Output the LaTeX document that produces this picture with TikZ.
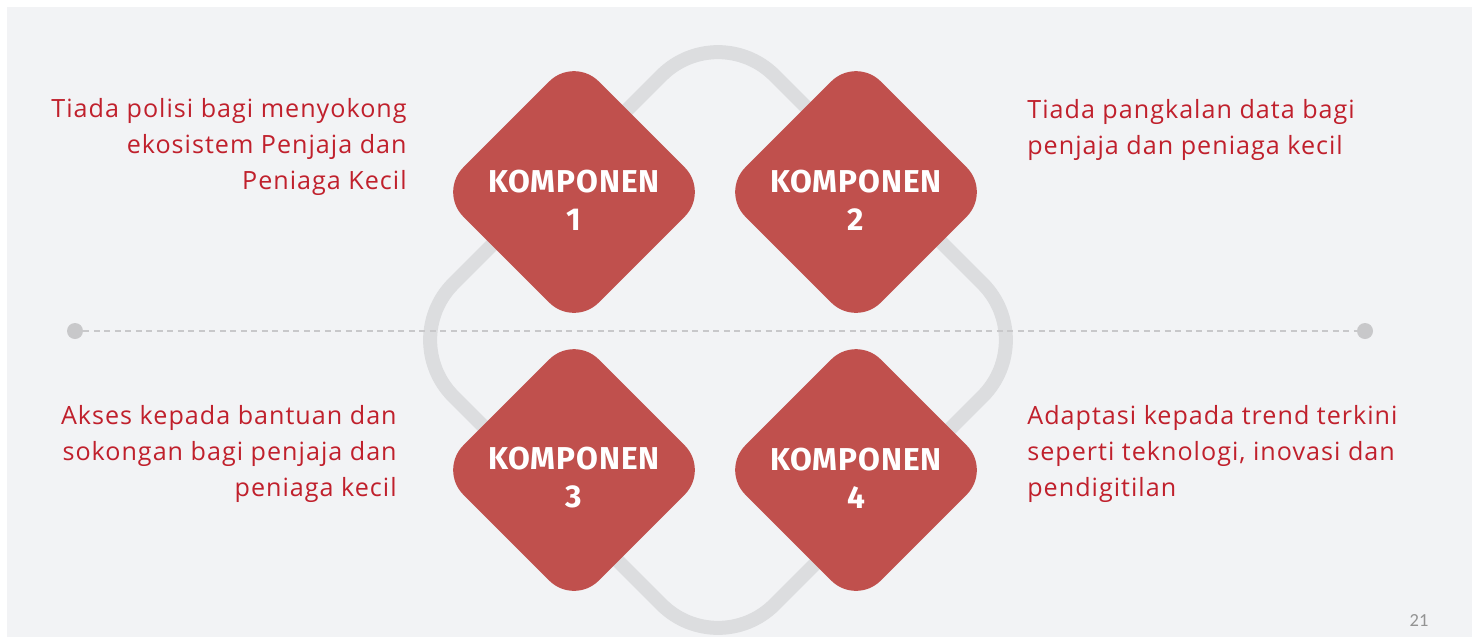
\documentclass[tikz,border=0pt]{standalone}
\usepackage{fontspec}
\setmainfont{Open Sans}[LetterSpace=4]
\newfontfamily\kompfont{Fira Sans}[LetterSpace=3]
\newfontfamily\pagefont{Carlito}
\usepackage{xcolor}
\usepackage{tikz}
\usetikzlibrary{positioning,calc,shapes.geometric}
\definecolor{KompRed}{HTML}{C0504D}
\definecolor{TextRed}{RGB}{192,32,44}
\definecolor{BgGray}{RGB}{242,243,245}
\definecolor{LoopGray}{RGB}{220,221,223}
\definecolor{LineGray}{RGB}{200,200,202}

\begin{document}
\begin{tikzpicture}[x=0.02cm, y=-0.02cm,
                % Style cho ô kim cương (komponen)
                kompnode/.style={
                    diamond, fill=KompRed,
                    minimum size=5.42cm, inner sep=0pt,
                    rounded corners=0.7cm
                },
                % Style cho chữ trong ô
                komptext/.style={
                    text=white, align=center, inner sep=0pt,
                    font=\kompfont\bfseries\fontsize{18}{21.6}\selectfont
                },
                % Style cho đoạn mô tả
                desctext/.style={
                    text=TextRed, inner sep=0pt,
                    font=\fontsize{14.3}{20.5}\selectfont
                },
                % Style cho chấm tròn hai đầu
                dot/.style={
                    circle, fill=LineGray, inner sep=0pt, minimum size=0.32cm
                }
            ]
                % --- 0. Nền ---
                \useasboundingbox (0,0) rectangle (1474,637);
                \fill[white] (0,0) rectangle (1474,637);
                \fill[BgGray] (7,7) rectangle (1472,637);

                % --- 1. Vòng xám phía sau ---
                \draw[LoopGray, line width=0.28cm, rounded corners=1.6cm]
                    (718,19) -- (1039,340) -- (718,661) -- (397,340) -- cycle;

                % --- 2. Đường nét đứt ---
                \node[dot] (dotL) at (75,331) {};
                \node[dot] (dotR) at (1365,331) {};
                \draw[LineGray, line width=0.04cm, dash pattern=on 0.12cm off 0.09cm] (dotL) -- (dotR);

                % --- 3. Các ô komponen ---
                \node[kompnode] (K1) at (574,192) {};
                \node[kompnode] (K2) at (856,192) {};
                \node[kompnode] (K3) at (574,470) {};
                \node[kompnode] (K4) at (856,470) {};
                \foreach \i in {1,...,4} {
                    \node[komptext] (T\i) at ([yshift=-0.16cm]K\i.center) {KOMPONEN\\\i};
                }

                % --- 4. Mô tả ---
                \node[desctext, align=right, anchor=east] (D1) at (407,147) {Tiada polisi bagi menyokong\\ekosistem Penjaja dan\\Peniaga Kecil};
                \node[desctext, align=left, anchor=west] (D2) at (1027,130) {Tiada pangkalan data bagi\\penjaja dan peniaga kecil};
                \node[desctext, align=right, anchor=east] (D3) at (397,454) {Akses kepada bantuan dan\\sokongan bagi penjaja dan\\peniaga kecil};
                \node[desctext, align=left, anchor=west] (D4) at (1027,454) {Adaptasi kepada trend terkini\\seperti teknologi, inovasi dan\\pendigitilan};

                % --- 5. Số trang ---
                \node[text=gray!85, font=\pagefont\fontsize{10.5}{12}\selectfont] (pg) at (1419,620) {21};

            \end{tikzpicture}
\end{document}
